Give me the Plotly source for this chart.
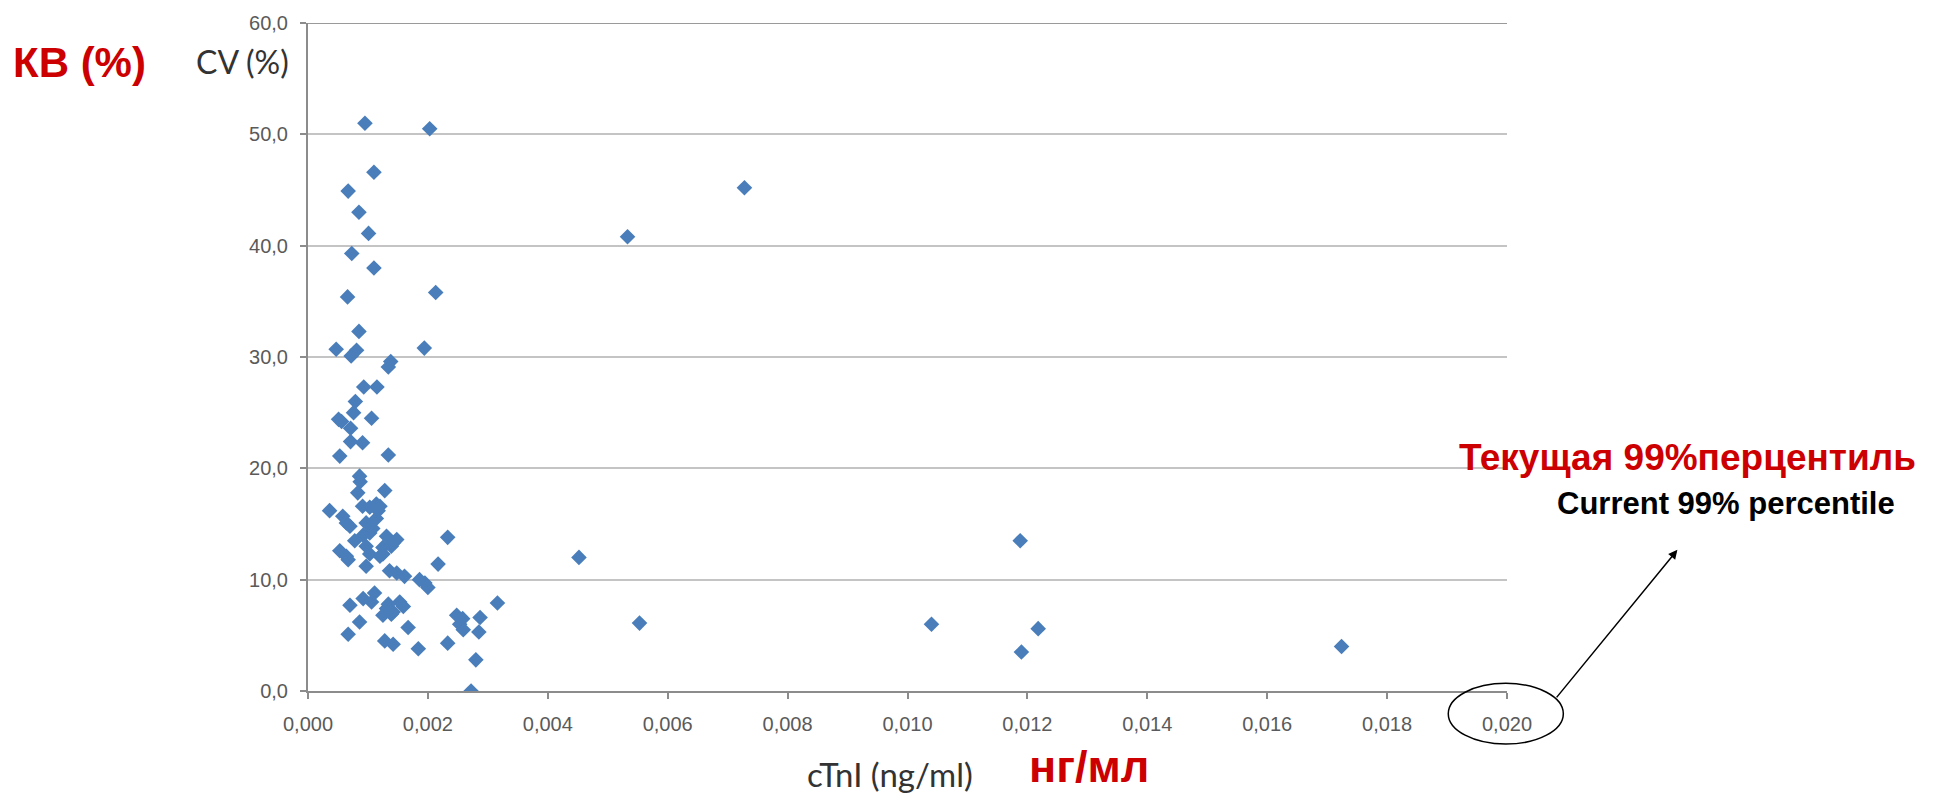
import plotly.graph_objects as go

# cTnI (ng/ml) values and CV (%) values
ctni = [0.00095, 0.00203, 0.00110, 0.00067, 0.00085, 0.00101, 0.00073, 0.00110, 0.00066, 0.00213,
        0.00085, 0.00047, 0.00081, 0.00072, 0.00194, 0.00138, 0.00134, 0.00093, 0.00115, 0.00079,
        0.00076, 0.00051, 0.00056, 0.00106, 0.00071, 0.00071, 0.00091, 0.00053, 0.00134,
        0.00086, 0.00087, 0.00083, 0.00128, 0.00036, 0.00058, 0.00064, 0.00103, 0.00117, 0.00114,
        0.00120, 0.00091, 0.00070, 0.00097, 0.00103, 0.00078, 0.00131, 0.00148, 0.00097, 0.00053,
        0.00125, 0.00139, 0.00120, 0.00064, 0.00067, 0.00103, 0.00125, 0.00097, 0.00136, 0.00148,
        0.00161, 0.00186, 0.00195, 0.00200, 0.00217, 0.00233, 0.00452, 0.00108, 0.00114, 0.00092,
        0.00142,
        0.00070, 0.00092, 0.00106, 0.00111, 0.00131, 0.00153, 0.00139, 0.00159, 0.00134, 0.00125,
        0.00142, 0.00086, 0.00167, 0.00067, 0.00128, 0.00142, 0.00184, 0.00233, 0.00248, 0.00258,
        0.00253, 0.00259, 0.00287, 0.00285, 0.00316, 0.00280, 0.00272, 0.00553, 0.00533, 0.00728,
        0.01040, 0.01188, 0.01218, 0.01190, 0.01724]
cv = [51.0, 50.5, 46.6, 44.9, 43.0, 41.1, 39.3, 38.0, 35.4, 35.8,
      32.3, 30.7, 30.6, 30.1, 30.8, 29.6, 29.1, 27.3, 27.3, 26.0,
      25.0, 24.4, 24.2, 24.5, 23.6, 22.4, 22.3, 21.1, 21.2,
      19.3, 18.8, 17.8, 18.0, 16.2, 15.7, 15.1, 16.5, 16.2, 16.8,
      16.6, 16.6, 14.8, 15.1, 14.2, 13.5, 13.9, 13.6, 13.0, 12.6,
      12.9, 13.0, 12.1, 12.1, 11.8, 12.3, 12.3, 11.2, 10.8, 10.6,
      10.3, 10.0, 9.7, 9.3, 11.4, 13.8, 12.0, 14.6, 15.5, 14.0,
      13.3,
      7.7, 8.3, 8.0, 8.8, 7.4, 8.0, 6.9, 7.6, 7.8, 6.8,
      7.1, 6.2, 5.7, 5.1, 4.5, 4.2, 3.8, 4.3, 6.8, 6.5,
      6.0, 5.5, 6.6, 5.3, 7.9, 2.8, 0.0, 6.1, 40.8, 45.2,
      6.0, 13.5, 5.6, 3.5, 4.0]

x_ticks = [0.000, 0.002, 0.004, 0.006, 0.008, 0.010, 0.012, 0.014, 0.016, 0.018, 0.020]
x_tick_labels = ["0,000", "0,002", "0,004", "0,006", "0,008", "0,010", "0,012", "0,014", "0,016", "0,018", "0,020"]
y_ticks = [0, 10, 20, 30, 40, 50, 60]
y_tick_labels = ["0,0", "10,0", "20,0", "30,0", "40,0", "50,0", "60,0"]

W, H = 1944, 798
L, R, T, B = 308.3, 1506.7, 20.0, 690.7


def px(xp):
    return (xp - L) / (R - L)


def py(yp):
    return (B - yp) / (B - T)


fig = go.Figure()
fig.add_trace(go.Scatter(
    x=ctni, y=cv, mode="markers",
    marker=dict(symbol="diamond", size=12, color="#4A7EBB", line=dict(width=0)),
    showlegend=False, hoverinfo="skip"))

tickfont = dict(family="Liberation Sans, Arial, sans-serif", size=20, color="#5a5a5a")
fig.update_xaxes(range=[0, 0.020], tickvals=x_ticks, ticktext=x_tick_labels,
                 showgrid=False, zeroline=False, showline=True, linecolor="#8c8c8c", linewidth=2,
                 ticks="outside", ticklen=6, tickcolor="#8c8c8c", tickwidth=1.5,
                 tickfont=tickfont, ticklabelstandoff=8)
fig.update_yaxes(range=[0, 60], tickvals=y_ticks, ticktext=y_tick_labels,
                 showgrid=True, gridcolor="#c4c4c4", gridwidth=1.5, zeroline=False,
                 showline=True, linecolor="#8c8c8c", linewidth=2,
                 ticks="outside", ticklen=6, tickcolor="#8c8c8c", tickwidth=1.5,
                 tickfont=tickfont, ticklabelstandoff=8)

# darker top border line
fig.add_shape(type="line", xref="paper", yref="y", x0=0, x1=1, y0=60, y1=60,
              line=dict(color="#9a9a9a", width=2), layer="below")

annotations = [
    dict(text="<b>КВ (%)</b>", x=px(80), y=py(60), font=dict(family="Liberation Sans, Arial", size=42, color="#CC0000")),
    dict(text="CV (%)", x=px(243), y=py(59), font=dict(family="Lato, sans-serif", size=32, color="#333333")),
    dict(text="cTnI (ng/ml)", x=px(890), y=py(774), font=dict(family="Lato, sans-serif", size=33, color="#333333")),
    dict(text="<b>нг/мл</b>", x=px(1089), y=py(767), font=dict(family="Liberation Sans, Arial", size=45, color="#CC0000")),
    dict(text="<b>Текущая 99%перцентиль</b>", x=px(1687), y=py(456), font=dict(family="Liberation Sans, Arial", size=37, color="#CC0000")),
    dict(text="<b>Current 99% percentile</b>", x=px(1726), y=py(502), font=dict(family="Liberation Sans, Arial", size=31, color="#000000")),
]
for a in annotations:
    fig.add_annotation(xref="paper", yref="paper", showarrow=False, xanchor="center", yanchor="middle", **a)

# arrow from ellipse to label
fig.add_annotation(xref="paper", yref="paper", x=px(1677), y=py(549), ax=1555 - 1677, ay=698 - 549,
                   text="", showarrow=True, arrowhead=2, arrowsize=1.2, arrowwidth=1.5, arrowcolor="#000000")

# ellipse round the 0,020 tick label
fig.add_shape(type="circle", xref="paper", yref="paper",
              x0=px(1448), x1=px(1563), y0=py(744), y1=py(683),
              line=dict(color="#000000", width=1.5))

fig.update_layout(width=W, height=H, margin=dict(l=L, r=W - R, t=T, b=H - B, pad=0),
                  paper_bgcolor="white", plot_bgcolor="white")

fig.write_html("out.html")
